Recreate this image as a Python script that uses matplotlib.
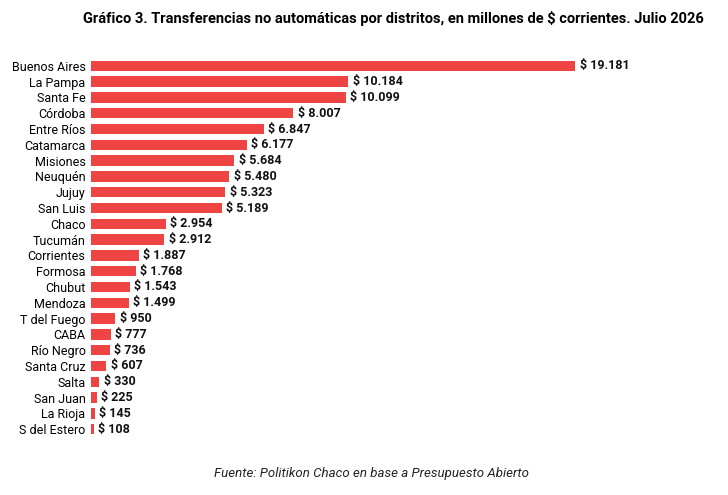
import matplotlib.pyplot as plt

distritos = ["Buenos Aires", "La Pampa", "Santa Fe", "Córdoba", "Entre Ríos", "Catamarca",
             "Misiones", "Neuquén", "Jujuy", "San Luis", "Chaco", "Tucumán", "Corrientes",
             "Formosa", "Chubut", "Mendoza", "T del Fuego", "CABA", "Río Negro", "Santa Cruz",
             "Salta", "San Juan", "La Rioja", "S del Estero"]
valores = [19181, 10184, 10099, 8007, 6847, 6177, 5684, 5480, 5323, 5189, 2954, 2912, 1887,
           1768, 1543, 1499, 950, 777, 736, 607, 330, 225, 145, 108]

plt.rcParams['font.family'] = ['Roboto', 'DejaVu Sans']
fig = plt.figure(figsize=(7.28, 4.95), dpi=100)
ax = fig.add_axes([0.125, 0.117, 0.832, 0.766])

y = list(range(len(distritos)))
ax.barh(y, valores, height=0.65, color="#EF4444")
for yi, v in zip(y, valores):
    ax.text(v + 180, yi, "$ " + f"{v:,}".replace(",", "."), va="center", ha="left",
            fontsize=9, fontweight="bold", color="#111111")

ax.set_yticks(y)
ax.set_yticklabels(distritos, fontsize=9)
ax.tick_params(axis="y", length=0, pad=4)
ax.set_xticks([])
ax.set_xlim(0, 24000)
ax.set_ylim(len(distritos) - 0.5, -0.5)
for s in ax.spines.values():
    s.set_visible(False)

fig.text(0.54, 0.962, "Gráfico 3. Transferencias no automáticas por distritos, en millones de $ corrientes. Julio 2026",
         ha="center", va="center", fontsize=10.5, fontweight="bold")
fig.text(0.51, 0.044, "Fuente: Politikon Chaco en base a Presupuesto Abierto",
         ha="center", va="center", fontsize=9.5, style="italic", color="#222222")

fig.savefig("out.png", dpi=100)
